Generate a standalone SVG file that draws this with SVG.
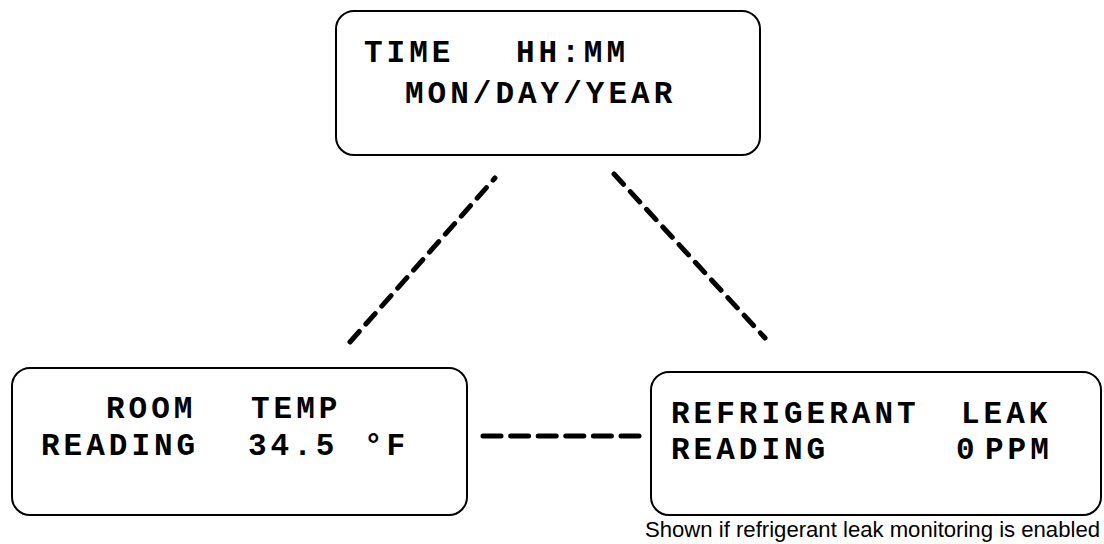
<svg xmlns="http://www.w3.org/2000/svg" width="1104" height="544" viewBox="0 0 1104 544">
<style>
.box{fill:#fff;stroke:#000;stroke-width:2}
.t{font-family:"Liberation Mono","Courier New",monospace;font-weight:bold;font-size:31px;fill:#000;letter-spacing:4px}
.cap{font-family:"Liberation Sans",Arial,sans-serif;font-size:21.5px;fill:#000}
.c{stroke:#000;stroke-width:5;stroke-linecap:round;fill:none}
</style>
<rect width="1104" height="544" fill="#fff"/>
<g id="connectors">
<line class="c" x1="350" y1="342" x2="495" y2="178" stroke-dasharray="14 10"/>
<line class="c" x1="614" y1="174" x2="765" y2="338" stroke-dasharray="14 10"/>
<line class="c" x1="483" y1="436" x2="639" y2="436" stroke-dasharray="18 9.6"/>
</g>
<g id="time">
<rect class="box" x="336" y="11" width="424" height="144" rx="18"/>
<text class="t" x="364" y="62">TIME</text>
<text class="t" x="516" y="62">HH:MM</text>
<text class="t" x="405" y="103">MON/DAY/YEAR</text>
</g>
<g id="room">
<rect class="box" x="12" y="368" width="455" height="147" rx="18"/>
<text class="t" x="106" y="418">ROOM</text>
<text class="t" x="251" y="418">TEMP</text>
<text class="t" x="41" y="455">READING</text>
<text class="t" x="248" y="455">34.5</text>
<text class="t" x="364" y="455">°F</text>
</g>
<g id="leak">
<rect class="box" x="651" y="372" width="450" height="143" rx="18"/>
<text class="t" x="671" y="423">REFRIGERANT</text>
<text class="t" x="961" y="423">LEAK</text>
<text class="t" x="671" y="459">READING</text>
<text class="t" x="956" y="459">0</text>
<text class="t" x="985" y="459">PPM</text>
<text class="cap" x="645" y="537" textLength="455" lengthAdjust="spacingAndGlyphs">Shown if refrigerant leak monitoring is enabled</text>
</g>
</svg>
